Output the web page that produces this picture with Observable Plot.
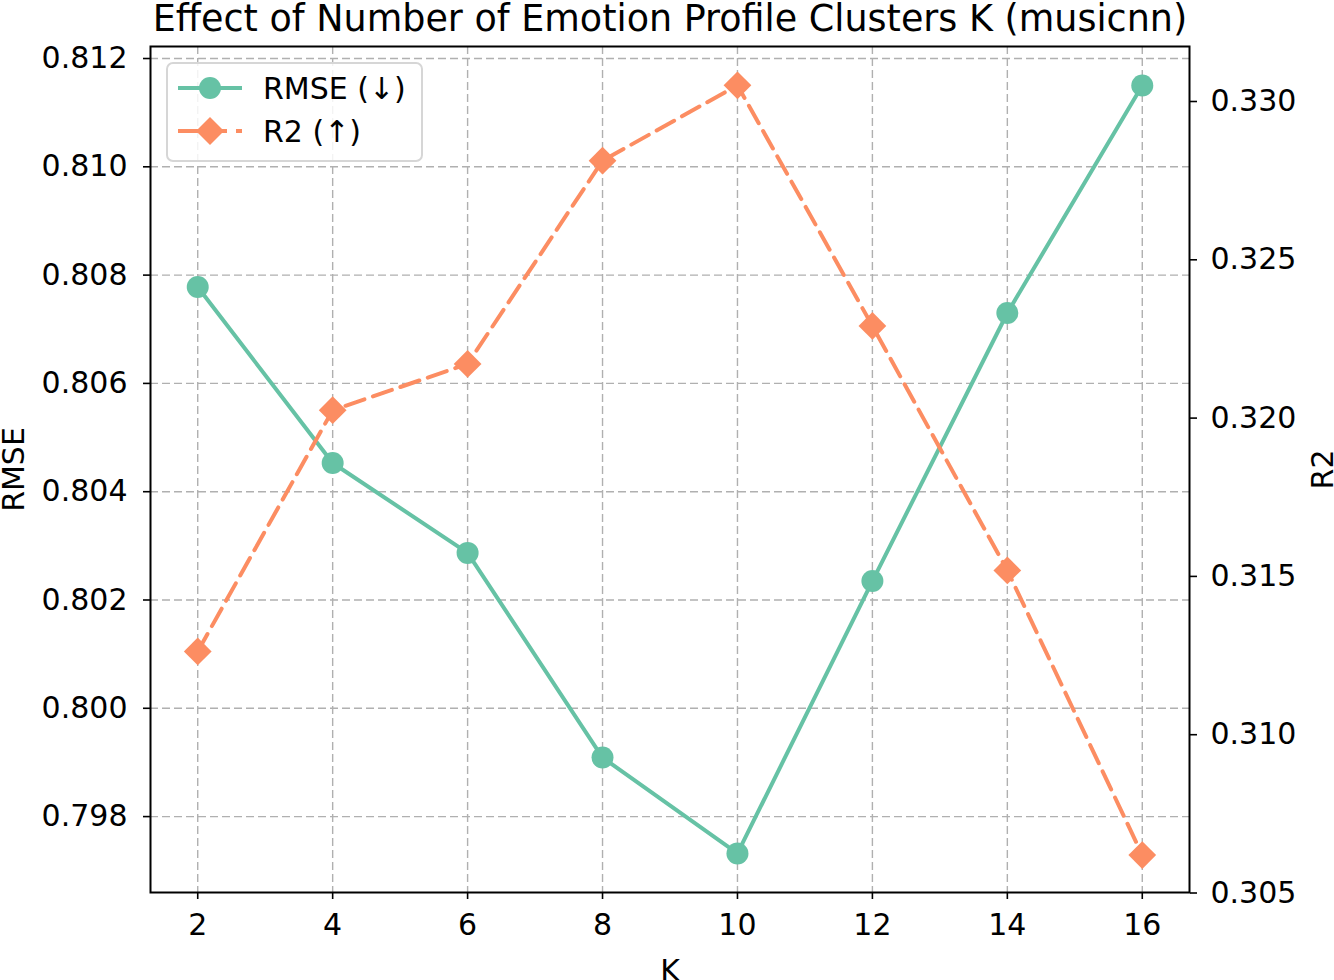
<!DOCTYPE html>
<html>
<head>
<meta charset="utf-8">
<script src="https://cdn.jsdelivr.net/npm/d3@7"></script>
<script src="https://cdn.jsdelivr.net/npm/@observablehq/plot@0.6"></script>
<style>
  html, body { margin: 0; padding: 0; background: #fff; }
  #wrap { position: relative; width: 1334px; height: 980px; font-family: "DejaVu Sans", sans-serif; }
  #legend { position: absolute; left: 166px; top: 62px; width: 253px; height: 96px;
    border: 2px solid #d6d6d6; border-radius: 7px; background: rgba(255,255,255,0.85); box-sizing: content-box; }
  .row { position: absolute; left: 0; height: 40px; display: flex; align-items: center; font-size: 30px; color: #000; white-space: nowrap; }
  .row svg { margin-left: 8px; margin-right: 19px; }
</style>
</head>
<body>
<div id="wrap"></div>
<script>
const title = "Effect of Number of Emotion Profile Clusters K (musicnn)";
const K = [2, 4, 6, 8, 10, 12, 14, 16];
const rmse = [0.80778, 0.80453, 0.80287, 0.79909, 0.79732, 0.80235, 0.80730, 0.81150];
const r2 = [0.31263, 0.32025, 0.32171, 0.32813, 0.33051, 0.32291, 0.31519, 0.30620];
const xTicks = [2, 4, 6, 8, 10, 12, 14, 16];
const leftTicks = [0.798, 0.800, 0.802, 0.804, 0.806, 0.808, 0.810, 0.812];
const rightTicks = [0.305, 0.310, 0.315, 0.320, 0.325, 0.330];
const seriesNames = ["RMSE (↓)", "R2 (↑)"];
const colors = ["#66c2a5", "#fc8d62"];

const leftDomain = [0.796598, 0.812222];
const rightDomain = [0.305016, 0.331737];
const toLeft = v => leftDomain[0] + (v - rightDomain[0]) / (rightDomain[1] - rightDomain[0]) * (leftDomain[1] - leftDomain[0]);
const toRight = v => rightDomain[0] + (v - leftDomain[0]) / (leftDomain[1] - leftDomain[0]) * (rightDomain[1] - rightDomain[0]);

const data = K.map((k, i) => ({K: k, rmse: rmse[i], r2: r2[i], r2m: toLeft(r2[i])}));

const gridStyle = {stroke: "#b0b0b0", strokeOpacity: 1, strokeWidth: 1.4, strokeDasharray: "8,4"};

const chart = Plot.plot({
  width: 1334, height: 980,
  marginLeft: 150, marginRight: 145, marginTop: 46, marginBottom: 88,
  style: {fontFamily: "DejaVu Sans, sans-serif", fontSize: "30px", color: "#000", background: "transparent"},
  x: {domain: [1.3, 16.7]},
  y: {domain: leftDomain},
  marks: [
    Plot.gridX(xTicks, gridStyle),
    Plot.gridY(leftTicks, gridStyle),
    Plot.axisX(xTicks, {tickSize: 7, tickPadding: 14, tickFormat: d => String(d), label: null, strokeWidth: 1.6}),
    Plot.axisY(leftTicks, {anchor: "left", tickSize: 7, tickPadding: 16, tickFormat: d => d.toFixed(3), label: null, strokeWidth: 1.6}),
    Plot.axisY(rightTicks.map(toLeft), {anchor: "right", tickSize: 7, tickPadding: 14, tickFormat: d => toRight(d).toFixed(3), label: null, strokeWidth: 1.6}),
    Plot.line(data, {x: "K", y: "rmse", stroke: colors[0], strokeWidth: 4}),
    Plot.dot(data, {x: "K", y: "rmse", fill: colors[0], r: 11, symbol: "circle"}),
    Plot.line(data, {x: "K", y: "r2m", stroke: colors[1], strokeWidth: 4, strokeDasharray: "20,9"}),
    Plot.dot(data, {x: "K", y: "r2m", fill: colors[1], r: 12.5, symbol: "diamond2"}),
    Plot.frame({stroke: "#000", strokeWidth: 2}),
    Plot.text([title], {frameAnchor: "top", dy: -27, fontSize: 36.5, lineAnchor: "middle", textAnchor: "middle"}),
    Plot.text(["K"], {frameAnchor: "bottom", dy: 79, fontSize: 30, lineAnchor: "middle", textAnchor: "middle"}),
    Plot.text(["RMSE"], {frameAnchor: "left", dx: -136, rotate: -90, fontSize: 30, lineAnchor: "middle", textAnchor: "middle"}),
    Plot.text(["R2"], {frameAnchor: "right", dx: 134, rotate: -90, fontSize: 30, lineAnchor: "middle", textAnchor: "middle"})
  ]
});

const wrap = document.getElementById("wrap");
wrap.appendChild(chart);

const legend = document.createElement("div");
legend.id = "legend";
const rowsHtml = [
  `<div class="row" style="top:4px"><svg width="68" height="30"><line x1="2" y1="15" x2="66" y2="15" stroke="${colors[0]}" stroke-width="4"/><circle cx="34" cy="15" r="11" fill="${colors[0]}"/></svg><span>${seriesNames[0]}</span></div>`,
  `<div class="row" style="top:47px"><svg width="68" height="30"><line x1="2" y1="15" x2="66" y2="15" stroke="${colors[1]}" stroke-width="4" stroke-dasharray="20,9"/><path d="M34,1 L48,15 L34,29 L20,15 Z" fill="${colors[1]}"/></svg><span>${seriesNames[1]}</span></div>`
];
legend.innerHTML = rowsHtml.join("");
wrap.appendChild(legend);
</script>
</body>
</html>
